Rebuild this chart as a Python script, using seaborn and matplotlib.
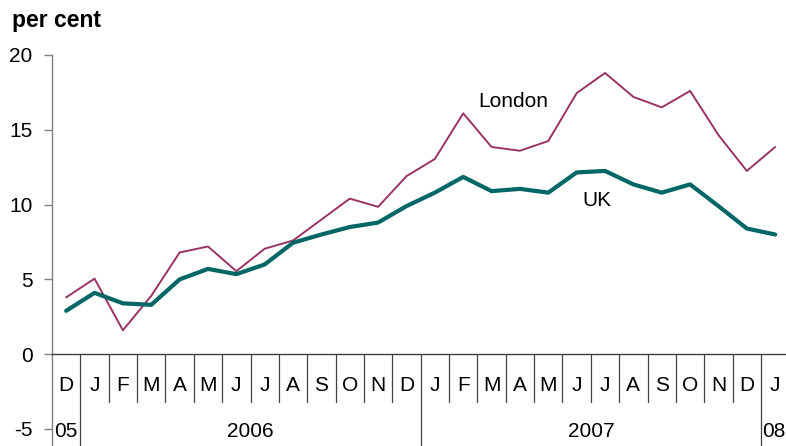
import matplotlib
matplotlib.use("Agg")
import matplotlib.pyplot as plt
import seaborn as sns
import numpy as np
import pandas as pd

months = ["D", "J", "F", "M", "A", "M", "J", "J", "A", "S", "O", "N",
          "D", "J", "F", "M", "A", "M", "J", "J", "A", "S", "O", "N", "D", "J"]
years = ["05", "2006", "2007", "08"]
year_spans = [(0, 0), (1, 12), (13, 24), (25, 25)]

uk = [2.9, 4.1, 3.4, 3.3, 5.0, 5.7, 5.35, 6.0, 7.45, 8.0, 8.5, 8.8,
      9.9, 10.8, 11.85, 10.9, 11.05, 10.8, 12.15, 12.25, 11.35, 10.8, 11.35, 9.9, 8.4, 8.0]
london = [3.8, 5.05, 1.6, 3.9, 6.8, 7.2, 5.55, 7.05, 7.6, 9.0, 10.4, 9.85,
          11.9, 13.05, 16.1, 13.85, 13.6, 14.25, 17.45, 18.8, 17.2, 16.5, 17.6, 14.65, 12.25, 13.85]

df = pd.DataFrame({"pos": np.arange(len(months)), "UK": uk, "London": london})

sns.set_theme(style="white")
plt.rcParams["font.family"] = ["Liberation Sans", "DejaVu Sans"]

W, H = 786, 446
fig = plt.figure(figsize=(W / 100, H / 100), dpi=100)
ax = fig.add_axes([52 / W, 0, (W - 52) / W, (446 - 55) / H])

sns.lineplot(data=df, x="pos", y="London", ax=ax, color="#993366", linewidth=1.4)
sns.lineplot(data=df, x="pos", y="UK", ax=ax, color="#006666", linewidth=3.0)

step = 28.36
ax.set_xlim(-0.5, -0.5 + (W - 52) / step)
ax.set_ylim(-5 - 17 / 14.95, 20)
ax.set_yticks([-5, 0, 5, 10, 15, 20])
ax.set_yticklabels(["-5", "0", "5", "10", "15", "20"], fontsize=15)
ax.set_xticks([])
ax.set_xlabel("")
ax.set_ylabel("")

for s in ["top", "right"]:
    ax.spines[s].set_visible(False)
ax.spines["left"].set_color("#808080")
ax.spines["left"].set_linewidth(1.0)
ax.spines["bottom"].set_position(("data", 0))
ax.spines["bottom"].set_color("#404040")
ax.spines["bottom"].set_linewidth(1.0)
ax.tick_params(axis="y", left=True, length=6, width=1, color="#808080", pad=8, labelcolor="black")

# month separators and labels
n = len(months)
year_bounds = {e + 0.5 for (_, e) in year_spans}
for i in range(n):
    b = i + 0.5
    if b in year_bounds:
        ax.plot([b, b], [0, -7], color="#404040", linewidth=0.9, clip_on=True)
    else:
        ax.plot([b, b], [0, -3.2], color="#404040", linewidth=0.9, clip_on=True)
    ax.text(i, -2.1, months[i], ha="center", va="center", fontsize=15, color="black")

for (s, e), y in zip(year_spans, years):
    if y == "08":
        ax.text(s - 0.47, -5.2, y, ha="left", va="center", fontsize=15, color="black")
    else:
        ax.text((s + e) / 2, -5.2, y, ha="center", va="center", fontsize=15, color="black")

ax.text(15.75, 16.9, "London", ha="center", va="center", fontsize=15, color="black")
ax.text(18.72, 10.3, "UK", ha="center", va="center", fontsize=15, color="black")

fig.text(12 / W, 1 - 20 / H, "per cent", ha="left", va="center", fontsize=16.5,
         fontweight="bold", color="black")

fig.savefig("out.png", dpi=100)
